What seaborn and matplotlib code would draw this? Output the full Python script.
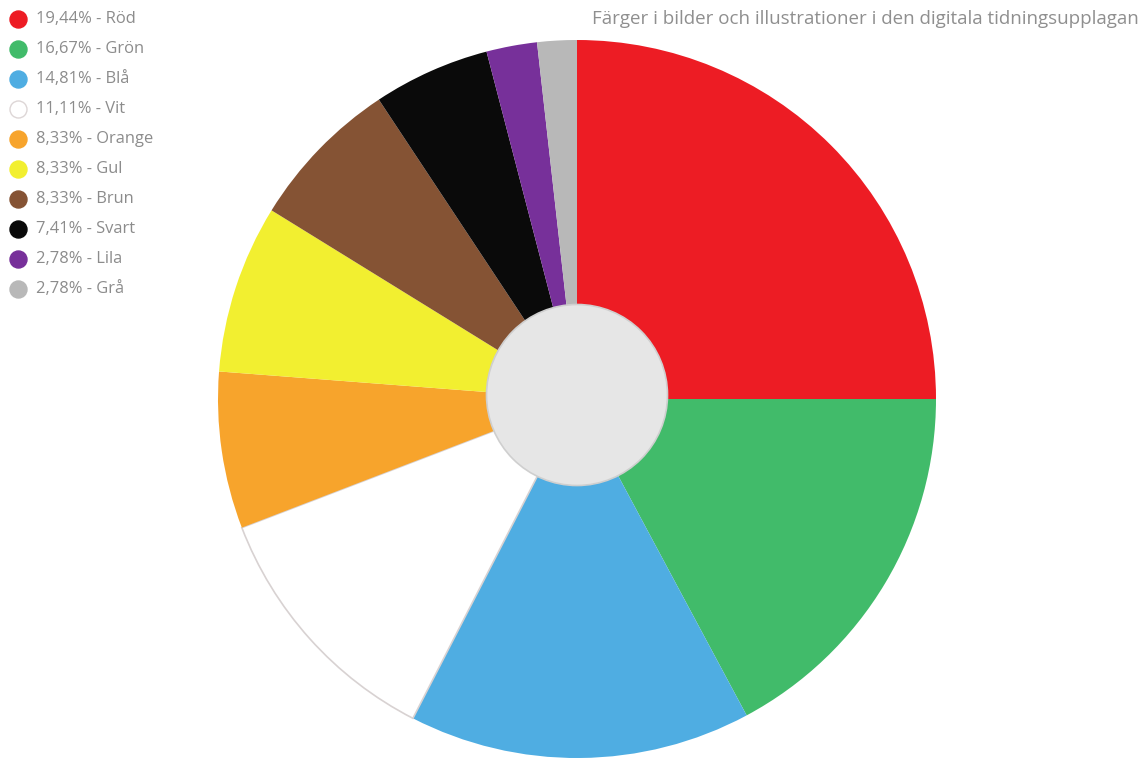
import matplotlib
matplotlib.use("Agg")
import matplotlib.pyplot as plt
import seaborn as sns
from matplotlib.patches import Circle

sns.set_theme(style="white")
plt.rcParams['font.family'] = ['Open Sans', 'DejaVu Sans']

# Data
names = ["Röd", "Grön", "Blå", "Vit", "Orange", "Gul", "Brun", "Svart", "Lila", "Grå"]
percent_labels = ["19,44%", "16,67%", "14,81%", "11,11%", "8,33%", "8,33%", "8,33%", "7,41%", "2,78%", "2,78%"]
# slice sizes as drawn in the reference (degrees of arc)
slice_sizes = [90.0, 61.8, 55.4, 41.8, 25.4, 27.3, 24.8, 18.9, 8.2, 6.4]
colors = ["#ed1c24", "#41bb6a", "#4fade2", "#ffffff", "#f7a42c", "#f2ef30",
          "#855334", "#0a0a0a", "#77309a", "#b8b8b8"]
title = "Färger i bilder och illustrationer i den digitala tidningsupplagan"

W, H = 1146, 761
fig = plt.figure(figsize=(W / 100, H / 100), dpi=100)
ax = fig.add_axes([0, 0, 1, 1])

wedges, _ = ax.pie(slice_sizes, colors=colors, startangle=90, counterclock=False,
                   center=(577, H - 399), radius=359, frame=True,
                   wedgeprops=dict(linewidth=0))
for w, c in zip(wedges, colors):
    if c == "#ffffff":
        w.set_edgecolor("#d8d2d2")
        w.set_linewidth(1.2)

ax.add_patch(Circle((577, H - 395), 90.5, facecolor="#e6e6e6",
                    edgecolor="#cfcfcf", linewidth=1.2, zorder=5))

# legend
for i, (p, n, c) in enumerate(zip(percent_labels, names, colors)):
    y = H - 19 - 30 * i
    ax.scatter([18], [y], s=150, color=c,
               edgecolors="#ddd6d6" if c == "#ffffff" else c,
               linewidths=1, zorder=6, clip_on=False)
    ax.text(36, y, f"{p} - {n}", fontsize=11.9, color="#8c8c8c",
            va="center", ha="left")

ax.text(1139, H - 19, title, fontsize=13.5, color="#8f8f8f", ha="right", va="center")

ax.set_xlim(0, W)
ax.set_ylim(0, H)
ax.set_aspect("auto")
ax.axis("off")

fig.savefig("out.png", dpi=100, facecolor="white")
